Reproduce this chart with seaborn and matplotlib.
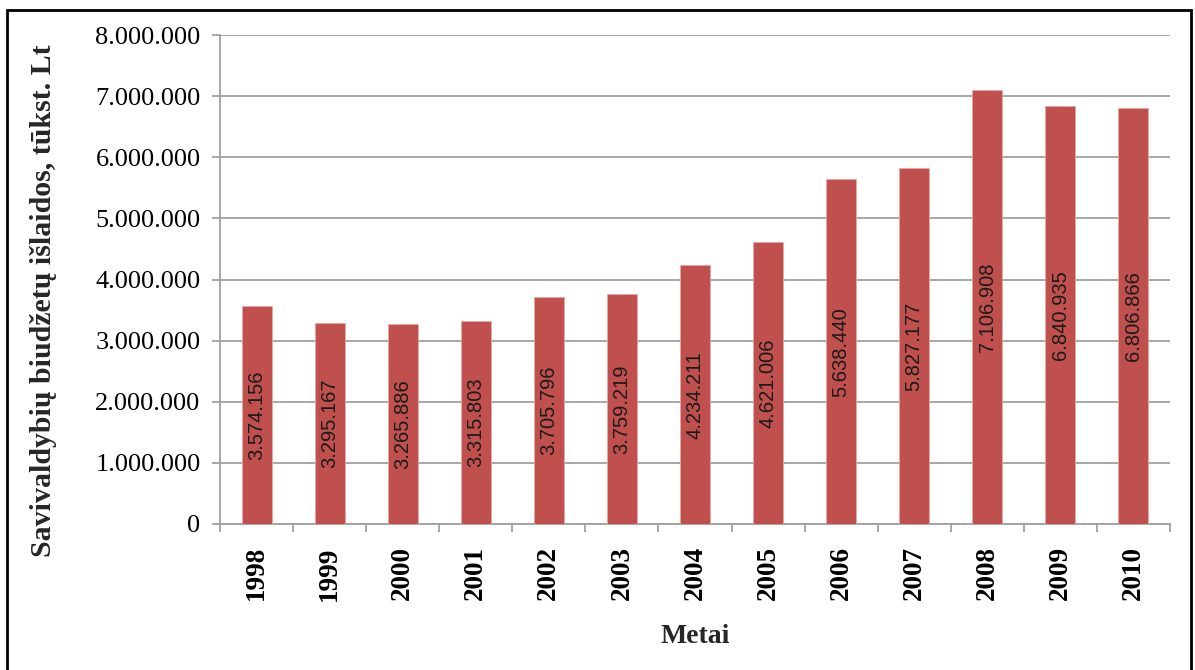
import matplotlib
matplotlib.use("Agg")
import matplotlib.pyplot as plt
import seaborn as sns
import pandas as pd
from matplotlib.patches import Rectangle
from matplotlib.ticker import FuncFormatter, FixedLocator

years = ["1998", "1999", "2000", "2001", "2002", "2003", "2004",
         "2005", "2006", "2007", "2008", "2009", "2010"]
values = [3574156, 3295167, 3265886, 3315803, 3705796, 3759219, 4234211,
          4621006, 5638440, 5827177, 7106908, 6840935, 6806866]
value_labels = ["3.574.156", "3.295.167", "3.265.886", "3.315.803", "3.705.796",
                "3.759.219", "4.234.211", "4.621.006", "5.638.440", "5.827.177",
                "7.106.908", "6.840.935", "6.806.866"]
y_ticks = [0, 1000000, 2000000, 3000000, 4000000, 5000000, 6000000, 7000000, 8000000]
x_title = "Metai"
y_title = "Savivaldybių biudžetų išlaidos, tūkst. Lt"

df = pd.DataFrame({"year": years, "value": values})

sns.set_theme(style="white")
plt.rcParams["font.family"] = ["Liberation Serif", "DejaVu Serif"]

W, H = 1195, 670
fig = plt.figure(figsize=(W / 100, H / 100), dpi=100)
ax = fig.add_axes([220 / W, 1 - 524 / H, (1170 - 220) / W, (524 - 35) / H])

bar_color = "#C0504D"
sns.barplot(data=df, x="year", y="value", color=bar_color, width=0.41,
            saturation=1, ax=ax, edgecolor="#E8A8A6", linewidth=0.6, zorder=3)

ax.set_xlim(-0.5, len(years) - 0.5)
ax.set_ylim(0, 8000000)
ax.set_yticks(y_ticks)
ax.yaxis.set_major_formatter(FuncFormatter(lambda v, p: f"{int(v):,}".replace(",", ".")))

grid_c = "#A0A0A0"
ax.grid(axis="y", color=grid_c, linewidth=1.3, zorder=0)
ax.grid(axis="x", visible=False)
for s in ["top", "right"]:
    ax.spines[s].set_visible(False)
for s in ["left", "bottom"]:
    ax.spines[s].set_color(grid_c)
    ax.spines[s].set_linewidth(1.3)

ax.tick_params(axis="y", which="major", length=6, width=1.3, color=grid_c,
               direction="out", left=True, labelsize=19, pad=8, labelcolor="black")
ax.tick_params(axis="x", which="major", length=0, labelsize=19.5, pad=16,
               labelrotation=90, labelcolor="black")
for lab in ax.get_xticklabels():
    lab.set_fontweight("bold")
ax.xaxis.set_minor_locator(FixedLocator([i - 0.5 for i in range(len(years) + 1)]))
ax.tick_params(axis="x", which="minor", length=6, width=1.3, color=grid_c,
               direction="out", bottom=True)

ax.bar_label(ax.containers[0], labels=value_labels, label_type="center",
             rotation=90, fontsize=14.5, family=["Liberation Sans", "DejaVu Sans"],
             color="#1a1a1a")

ax.set_xlabel(x_title, fontsize=20, fontweight="bold")
ax.set_ylabel(y_title, fontsize=21.5, fontweight="bold")
ax.xaxis.set_label_coords(0.5, -(624 - 524) / (524 - 35))
ax.yaxis.set_label_coords(-(220 - 57) / (1170 - 220), (524 - 301) / (524 - 35))

frame = Rectangle((7 / W, -0.05), (1191 - 7) / W, 1.05 - 10 / H,
                  transform=fig.transFigure, fill=False, edgecolor="black",
                  linewidth=2.0, zorder=10)
fig.patches.append(frame)

fig.savefig("out.png", dpi=100)
